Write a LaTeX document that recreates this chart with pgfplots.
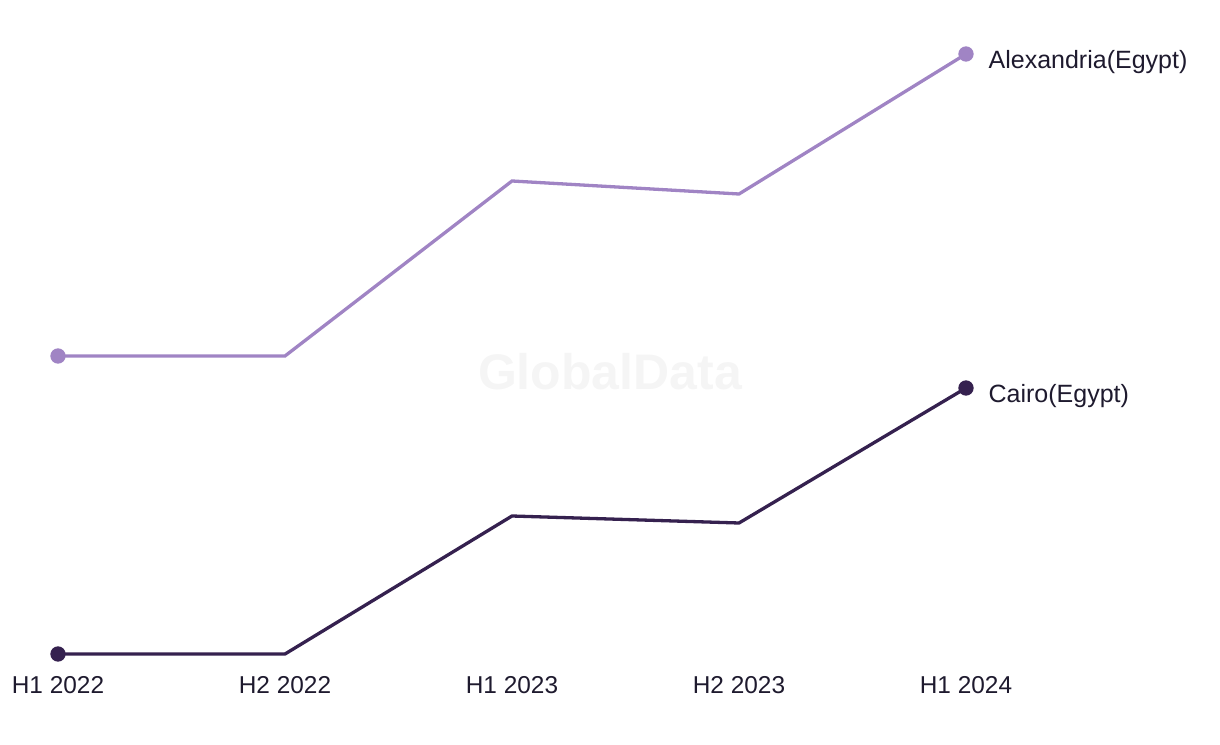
\documentclass[border=0pt]{standalone}
\usepackage{fontspec}
\setmainfont{Liberation Sans}
\usepackage{pgfplots}
\pgfplotsset{compat=1.18}
\definecolor{alexc}{HTML}{A084C4}
\definecolor{cairoc}{HTML}{35214F}
\definecolor{txtc}{HTML}{1E1A2E}
\begin{document}
\begin{tikzpicture}
\useasboundingbox (0,0) rectangle (610pt,372pt);
\begin{axis}[
  at={(0,0)}, anchor=south west,
  scale only axis, width=610pt, height=372pt,
  xmin=-0.2555, xmax=5.119, ymin=0, ymax=744,
  clip=false,
  axis x line*=bottom, axis y line=none,
  x axis line style={draw=none},
  major tick length=0pt,
  xtick={0,1,2,3,4},
  xticklabels={H1 2022,H2 2022,H1 2023,H2 2023,H1 2024},
  xticklabel style={anchor=base, yshift=25.5pt, font=\fontsize{12.2}{14}\selectfont, text=txtc},
]
\node[font=\fontsize{25}{30}\selectfont\bfseries, text=black!4] at (rel axis cs:0.5,0.5) {GlobalData};
\addplot[color=alexc, line width=1.65pt, mark=*, mark size=3pt, mark indices={1,5}, mark options={solid}]
  coordinates {(0,388) (1,388) (2,563) (3,550) (4,690)}
  node[pos=1, anchor=west, inner sep=0pt, xshift=10.5pt, yshift=-3.8pt, font=\fontsize{12.5}{15}\selectfont, text=txtc] {Alexandria(Egypt)};
\addplot[color=cairoc, line width=1.65pt, mark=*, mark size=3pt, mark indices={1,5}, mark options={solid}]
  coordinates {(0,90) (1,90) (2,228) (3,221) (4,356)}
  node[pos=1, anchor=west, inner sep=0pt, xshift=10.5pt, yshift=-3.8pt, font=\fontsize{12.5}{15}\selectfont, text=txtc] {Cairo(Egypt)};
\end{axis}
\end{tikzpicture}
\end{document}
